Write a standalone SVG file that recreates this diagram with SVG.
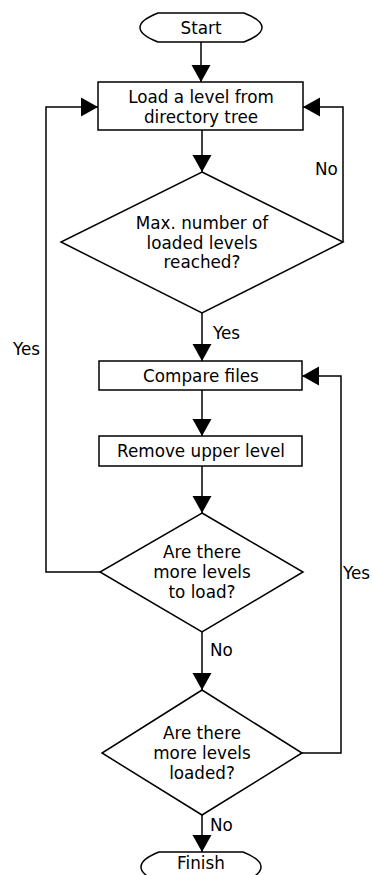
<svg xmlns="http://www.w3.org/2000/svg" width="373" height="875" viewBox="0 0 373 875">
<style>
.s{fill:#fff;stroke:#000;stroke-width:1.5}
.c{fill:none;stroke:#000;stroke-width:1.5}
text{font-family:"DejaVu Sans",sans-serif;font-size:16.8px;fill:#000}
.m{text-anchor:middle}
</style>
<defs>
<marker id="arr" markerUnits="userSpaceOnUse" markerWidth="18" markerHeight="20" refX="17" refY="10" orient="auto">
<path d="M0,0.5 L17,10 L0,19.5 Z" fill="#000"/>
</marker>
</defs>
<rect width="373" height="875" fill="#fff"/>
<g id="connectors">
<path class="c" d="M201,42 V82" marker-end="url(#arr)"/>
<path class="c" d="M202,130 V172" marker-end="url(#arr)"/>
<path class="c" d="M343,242 V107 H303" marker-end="url(#arr)"/>
<path class="c" d="M202,313 V361" marker-end="url(#arr)"/>
<path class="c" d="M202,390 V436" marker-end="url(#arr)"/>
<path class="c" d="M202,466 V513" marker-end="url(#arr)"/>
<path class="c" d="M100,572 H46 V107 H98" marker-end="url(#arr)"/>
<path class="c" d="M202,632 V690" marker-end="url(#arr)"/>
<path class="c" d="M302,753 H341 V376 H302" marker-end="url(#arr)"/>
<path class="c" d="M202,815 V852" marker-end="url(#arr)"/>
<text x="315" y="175">No</text>
<text x="13" y="355">Yes</text>
<text x="213" y="339">Yes</text>
<text x="343" y="579">Yes</text>
<text x="210" y="656">No</text>
<text x="210" y="831">No</text>
</g>
<g id="start">
<path class="s" d="M158,13 H244 Q262,20 262,27.5 Q262,35 244,42 H158 Q140,35 140,27.5 Q140,20 158,13 Z"/>
<text class="m" x="201" y="33.5">Start</text>
</g>
<g id="load">
<rect class="s" x="98" y="82" width="205" height="48"/>
<text class="m" x="201" y="103">Load a level from</text>
<text class="m" x="201" y="123">directory tree</text>
</g>
<g id="maxcheck">
<path class="s" d="M202,172 L343,242 L202,313 L61,242 Z"/>
<text class="m" x="202" y="229">Max. number of</text>
<text class="m" x="202" y="248.5">loaded levels</text>
<text class="m" x="202" y="268">reached?</text>
</g>
<g id="compare">
<rect class="s" x="99" y="361" width="203" height="29"/>
<text class="m" x="201" y="381.5">Compare files</text>
</g>
<g id="remove">
<rect class="s" x="99" y="436" width="203" height="30"/>
<text class="m" x="201" y="457">Remove upper level</text>
</g>
<g id="moretoload">
<path class="s" d="M202,513 L303,572 L202,632 L100,572 Z"/>
<text class="m" x="202" y="558">Are there</text>
<text class="m" x="202" y="578">more levels</text>
<text class="m" x="202" y="598">to load?</text>
</g>
<g id="moreloaded">
<path class="s" d="M202,690 L302,753 L202,815 L102,753 Z"/>
<text class="m" x="202" y="739">Are there</text>
<text class="m" x="202" y="759">more levels</text>
<text class="m" x="202" y="779">loaded?</text>
</g>
<g id="finish">
<path class="s" d="M159,852 H243 Q261,859 261,867 Q261,875 243,882 H159 Q141,875 141,867 Q141,859 159,852 Z"/>
<text class="m" x="201" y="869">Finish</text>
</g>
</svg>
